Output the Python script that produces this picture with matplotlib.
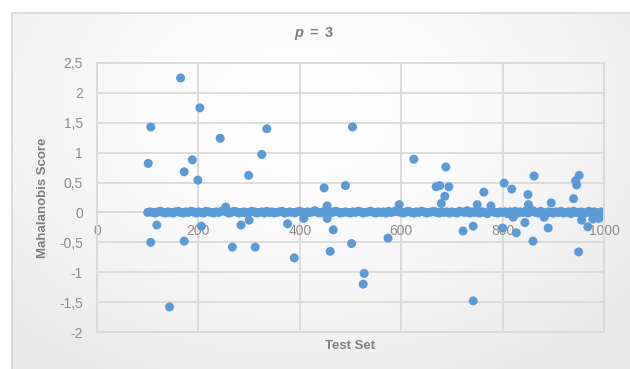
import matplotlib
matplotlib.use("Agg")
import matplotlib.pyplot as plt
import numpy as np

plt.rcParams['font.family'] = ['Liberation Sans', 'DejaVu Sans']

# band of near-zero scores, one reading every 5 test items from 100 to 1000
band_x = np.arange(100, 1001, 5)
band_y = [0.00, 0.01, 0.00, -0.01, 0.01, 0.02, 0.00, -0.01, 0.01, 0.00, -0.01, 0.01, 0.02, 0.00, -0.01, 0.01, 0.00, 0.02, 0.01, -0.01,
          0.01, 0.00, -0.01, 0.02, 0.01, 0.00, -0.01, 0.01, 0.00, 0.02, 0.03, 0.01, -0.01, 0.00, 0.02, 0.01, -0.01, 0.00, 0.01, -0.01,
          0.00, 0.02, 0.01, -0.01, 0.00, 0.01, -0.01, 0.02, 0.00, 0.01, -0.01, 0.00, 0.01, 0.02, -0.01, 0.00, 0.01, 0.00, -0.01, 0.01,
          0.02, 0.00, -0.01, 0.01, 0.00, 0.01, 0.03, 0.00, -0.01, 0.01, 0.00, -0.02, 0.01, 0.00, 0.02, 0.01, -0.01, 0.00, 0.01, 0.00,
          -0.01, 0.01, 0.00, 0.02, 0.01, -0.01, 0.00, 0.01, 0.02, 0.00, -0.01, 0.01, 0.00, 0.01, -0.01, 0.02, 0.00, 0.01, 0.03, 0.01,
          0.00, -0.01, 0.01, 0.02, 0.00, -0.01, 0.01, 0.00, 0.02, 0.01, -0.01, 0.00, 0.01, 0.02, 0.00, -0.01, 0.01, 0.00, 0.01, -0.01,
          0.01, 0.00, -0.01, 0.02, 0.01, 0.00, 0.03, -0.01, 0.01, 0.00, 0.02, -0.01, 0.01, 0.00, -0.02, 0.01, 0.02, 0.00, -0.01, 0.01,
          0.00, 0.01, -0.02, 0.01, 0.00, 0.02, -0.01, 0.01, 0.00, 0.02, -0.01, 0.01, 0.03, 0.00, -0.01, 0.02, 0.00, -0.02, 0.01, 0.00,
          -0.01, 0.01, 0.00, 0.02, -0.01, 0.00, 0.01, -0.02, 0.02, 0.00, -0.01, 0.01, -0.02, 0.00, 0.02, -0.01, 0.01, 0.00, -0.02, 0.01,
          0.00]

# scores away from zero
out_x = [165, 203, 106, 335, 243, 325, 101, 188, 172, 199, 299, 504, 448, 490,
         625, 688, 669, 676, 694, 686, 679, 596, 763, 803, 818, 862, 850, 750,
         896, 951, 944, 946, 940, 851, 777, 254, 454,
         118, 106, 172, 143, 206, 267, 284, 300, 312, 376, 389, 408, 454, 466,
         460, 502, 527, 525, 574, 722, 742, 742, 800, 827, 844, 860, 890, 950,
         968, 956, 990, 978, 821, 882]
out_y = [2.25, 1.75, 1.43, 1.40, 1.24, 0.97, 0.82, 0.88, 0.68, 0.54, 0.62, 1.43, 0.41, 0.45,
         0.89, 0.76, 0.43, 0.45, 0.43, 0.27, 0.15, 0.13, 0.34, 0.49, 0.39, 0.61, 0.30, 0.13,
         0.16, 0.62, 0.53, 0.46, 0.23, 0.13, 0.11, 0.09, 0.11,
         -0.21, -0.50, -0.48, -1.58, -0.23, -0.58, -0.21, -0.13, -0.58, -0.19, -0.76, -0.10, -0.10, -0.29,
         -0.65, -0.52, -1.02, -1.20, -0.43, -0.31, -0.23, -1.48, -0.26, -0.34, -0.17, -0.48, -0.26, -0.66,
         -0.24, -0.13, -0.10, -0.11, -0.08, -0.08]

x_ticks = [0, 200, 400, 600, 800, 1000]
y_ticks = [-2, -1.5, -1, -0.5, 0, 0.5, 1, 1.5, 2, 2.5]
y_labels = ["-2", "-1,5", "-1", "-0,5", "0", "0,5", "1", "1,5", "2", "2,5"]

W, H = 630, 369
fig = plt.figure(figsize=(W / 100, H / 100), dpi=100)

# chart area background: soft radial gradient with a thin border
bg = fig.add_axes([0, 0, 1, 1], zorder=-5)
yy, xx = np.mgrid[0:H, 0:W]
r = np.sqrt(((xx - 300) / 420.0) ** 2 + ((yy - 110) / 300.0) ** 2)
shade = 1.0 - 0.085 * np.clip(r, 0, 1) ** 1.6
shade[(xx < 11) | (yy < 12)] = 1.0
bg.imshow(np.dstack([shade] * 3), extent=(0, W, H, 0), aspect='auto', interpolation='bilinear')
bg.plot([11.5, 11.5, W], [H, 12.5, 12.5], color='#d9d9d9', lw=1.3)
bg.set_xlim(0, W)
bg.set_ylim(H, 0)
bg.axis('off')

ax = fig.add_axes([97 / W, 1 - 332 / H, 507 / W, 269 / H])
ax.set_facecolor('none')
ax.set_xlim(0, 1000)
ax.set_ylim(-2, 2.5)
ax.set_xticks(x_ticks)
ax.set_yticks(y_ticks)
ax.set_yticklabels(y_labels)
ax.tick_params(axis='both', length=0, labelbottom=False)
ax.tick_params(axis='y', pad=10, labelsize=10, labelcolor='#8c8c8c')
ax.grid(True, color='#d9d9d9', lw=1.3, zorder=0)
ax.set_axisbelow(True)
for s in ax.spines.values():
    s.set_color('#d9d9d9')
    s.set_linewidth(1.3)
ax.axhline(0, color='#d9d9d9', lw=1.2, zorder=0.5)

# x tick labels sit just under the zero line, as in the spreadsheet
for v in x_ticks:
    ax.text(v, -0.31, str(v), ha='center', va='center', fontsize=10,
            color='#8c8c8c', zorder=1.5)

ax.scatter(band_x, band_y, s=42, color='#5b9bd5', edgecolors='none', zorder=2)
ax.scatter(out_x, out_y, s=42, color='#5b9bd5', edgecolors='none', zorder=2)

ax.set_ylabel("Mahalanobis Score", fontsize=9.5, fontweight='bold', color='#7f7f7f')
ax.yaxis.set_label_coords((43 - 97) / 507, 0.5)
ax.set_xlabel("Test Set", fontsize=9.5, fontweight='bold', color='#7f7f7f')
ax.xaxis.set_label_coords(0.5, -(346 - 332) / 269)
ax.xaxis.label.set_va('center')
ax.yaxis.label.set_va('center')

# title "p = 3" with italic p
ty = 1 - 33 / H
fig.text(298.5 / W, ty, "p", style='italic', fontweight='bold', fontsize=10.5,
         color='#7f7f7f', ha='center', va='center')
fig.text(313.5 / W, ty, "=", fontweight='bold', fontsize=10.5,
         color='#7f7f7f', ha='center', va='center')
fig.text(328.5 / W, ty, "3", fontweight='bold', fontsize=10.5,
         color='#7f7f7f', ha='center', va='center')

fig.savefig("out.png", dpi=100)
